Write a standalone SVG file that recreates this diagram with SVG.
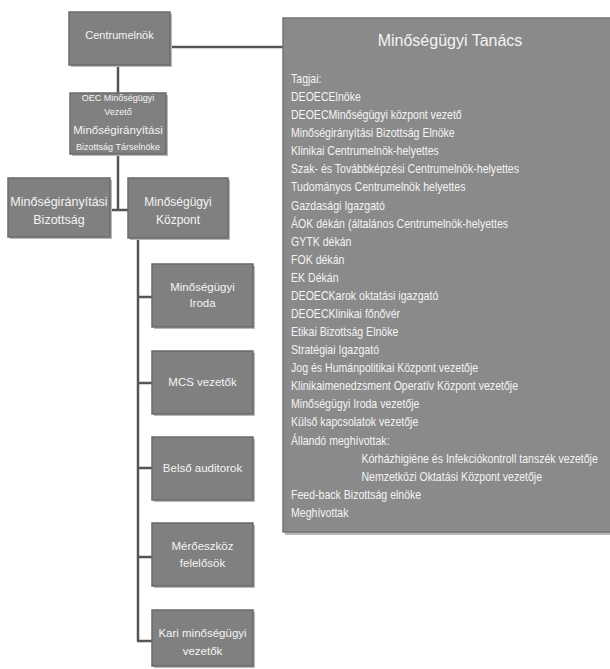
<svg xmlns="http://www.w3.org/2000/svg" width="610" height="669" viewBox="0 0 610 669">
<defs>
<style>
.box{fill:#808080;stroke:#6a6a6a;stroke-width:1.5}
.shadow{fill:#b8b8b8}
.t{font-family:"Liberation Sans",Arial,sans-serif;fill:#f4f4f4;text-anchor:middle}
.l{font-family:"Liberation Sans",Arial,sans-serif;fill:#f4f4f4;font-size:12px}
.conn{stroke:#555555;stroke-width:2.5;fill:none}
</style>
</defs>
<rect width="610" height="669" fill="#ffffff"/>
<g id="connectors">
<path class="conn" d="M170 47 H283"/>
<path class="conn" d="M118 65 V93"/>
<path class="conn" d="M118 154 V210 M110 210 H128"/>
<path class="conn" d="M138 240 V641 M137 297 H152 M137 383 H152 M137 468 H152 M137 557 H152 M137 641 H152"/>
</g>
<g id="centrumelnok">
<rect class="shadow" x="71" y="14" width="101" height="53"/>
<rect class="box" x="69" y="12" width="101" height="53"/>
<text class="t" x="119.5" y="39" font-size="11">Centrumelnök</text>
</g>
<g id="oec">
<rect class="shadow" x="72" y="95" width="96" height="61"/>
<rect class="box" x="70" y="93" width="96" height="61"/>
<text class="t" x="118" y="101" font-size="9">OEC Minőségügyi</text>
<text class="t" x="118" y="115" font-size="9">Vezető</text>
<text class="t" x="118" y="134" font-size="11.5">Minőségirányítási</text>
<text class="t" x="118" y="150" font-size="9">Bizottság Társelnöke</text>
</g>
<g id="mib">
<rect class="shadow" x="10" y="180" width="102" height="59"/>
<rect class="box" x="8" y="178" width="102" height="59"/>
<text class="t" x="59" y="206" font-size="12.5">Minőségirányítási</text>
<text class="t" x="59" y="224" font-size="12.5">Bizottság</text>
</g>
<g id="kozpont">
<rect class="shadow" x="130" y="180" width="100" height="60"/>
<rect class="box" x="128" y="178" width="100" height="60"/>
<text class="t" x="178" y="206" font-size="12">Minőségügyi</text>
<text class="t" x="178" y="224" font-size="12">Központ</text>
</g>
<g id="iroda">
<rect class="shadow" x="154" y="266" width="101" height="63"/>
<rect class="box" x="152" y="264" width="101" height="63"/>
<text class="t" x="202.5" y="291" font-size="11.5">Minőségügyi</text>
<text class="t" x="202.5" y="307" font-size="11.5">Iroda</text>
</g>
<g id="mcs">
<rect class="shadow" x="154" y="353" width="101" height="63"/>
<rect class="box" x="152" y="351" width="101" height="63"/>
<text class="t" x="202.5" y="386" font-size="11.5">MCS vezetők</text>
</g>
<g id="belso">
<rect class="shadow" x="154" y="439" width="101" height="63"/>
<rect class="box" x="152" y="437" width="101" height="63"/>
<text class="t" x="202.5" y="472" font-size="11.5">Belső auditorok</text>
</g>
<g id="meroeszkoz">
<rect class="shadow" x="154" y="525" width="101" height="63"/>
<rect class="box" x="152" y="523" width="101" height="63"/>
<text class="t" x="202.5" y="550" font-size="11.5">Mérőeszköz</text>
<text class="t" x="202.5" y="567" font-size="11.5">felelősök</text>
</g>
<g id="kari">
<rect class="shadow" x="154" y="612" width="101" height="56"/>
<rect class="box" x="152" y="610" width="101" height="56"/>
<text class="t" x="202.5" y="637" font-size="11.5">Kari minőségügyi</text>
<text class="t" x="202.5" y="655" font-size="11.5">vezetők</text>
</g>
<g id="tanacs">
<rect class="shadow" x="285" y="20" width="327" height="515"/>
<rect x="283" y="18" width="328" height="514" fill="#8a8a8a" stroke="#747474" stroke-width="1.5"/>
<text class="t" x="450" y="46" font-size="16">Minőségügyi Tanács</text>
<g transform="translate(291 0) scale(0.88 1)">
<text class="l" x="0" y="83">Tagjai:</text>
<text class="l" x="0" y="101.1">DEOECElnöke</text>
<text class="l" x="0" y="119.2">DEOECMinőségügyi központ vezető</text>
<text class="l" x="0" y="137.2">Minőségirányítási Bizottság Elnöke</text>
<text class="l" x="0" y="155.3">Klinikai Centrumelnök-helyettes</text>
<text class="l" x="0" y="173.4">Szak- és Továbbképzési Centrumelnök-helyettes</text>
<text class="l" x="0" y="191.5">Tudományos Centrumelnök helyettes</text>
<text class="l" x="0" y="209.6">Gazdasági Igazgató</text>
<text class="l" x="0" y="227.6">ÁOK dékán (általános Centrumelnök-helyettes</text>
<text class="l" x="0" y="245.7">GYTK dékán</text>
<text class="l" x="0" y="263.8">FOK dékán</text>
<text class="l" x="0" y="281.9">EK Dékán</text>
<text class="l" x="0" y="300">DEOECKarok oktatási igazgató</text>
<text class="l" x="0" y="318">DEOECKlinikai főnővér</text>
<text class="l" x="0" y="336.1">Etikai Bizottság Elnöke</text>
<text class="l" x="0" y="354.2">Stratégiai Igazgató</text>
<text class="l" x="0" y="372.3">Jog és Humánpolitikai Központ vezetője</text>
<text class="l" x="0" y="390.4">Klinikaimenedzsment Operatív Központ vezetője</text>
<text class="l" x="0" y="408.4">Minőségügyi Iroda vezetője</text>
<text class="l" x="0" y="426.5">Külső kapcsolatok vezetője</text>
<text class="l" x="0" y="444.6">Állandó meghívottak:</text>
<text class="l" x="80" y="462.7">Kórházhigiéne és Infekciókontroll tanszék vezetője</text>
<text class="l" x="80" y="480.8">Nemzetközi Oktatási Központ vezetője</text>
<text class="l" x="0" y="498.8">Feed-back Bizottság elnöke</text>
<text class="l" x="0" y="517">Meghívottak</text>
</g>
</g>
</svg>
